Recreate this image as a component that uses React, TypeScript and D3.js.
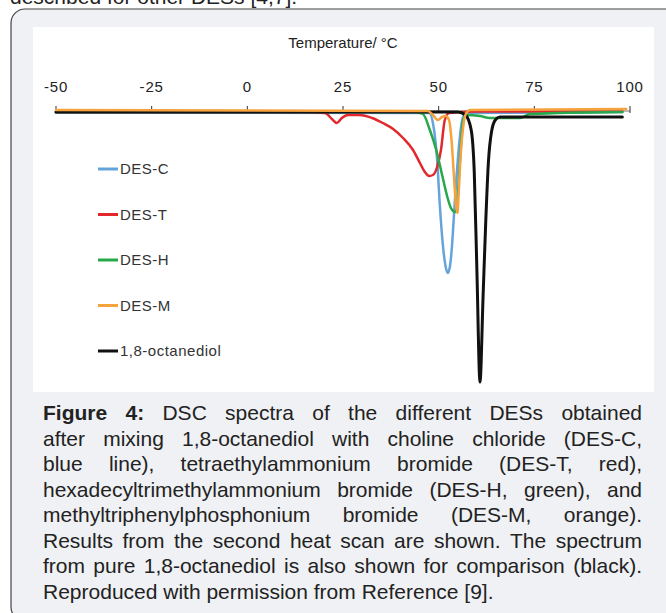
import React, { useMemo } from "react";
import * as d3 from "d3";

// ---- data ----
const xTicks: number[] = [-50, -25, 0, 25, 50, 75, 100];
const seriesNames: string[] = ["DES-C", "DES-T", "DES-H", "DES-M", "1,8-octanediol"];
const seriesColors: string[] = ["#64a4da", "#e2282c", "#27a84a", "#f6a33e", "#111111"];

// [temperature °C, heat flow (arbitrary units, endo down)]
const desC: [number, number][] = [
  [-50, -0.05], [47.5, -0.1], [48.8, -1.8], [49.6, -4.8], [50.3, -9.3], [51.1, -13.3],
  [51.9, -15.6], [52.4, -16.1], [53.0, -15.3], [53.5, -13.3], [54.0, -10.3], [54.5, -7.3],
  [55.0, -4.8], [55.6, -2.3], [56.4, -0.5], [57.7, -0.1], [98, 0],
];
const desT: [number, number][] = [
  [-50, 0], [14, 0], [20.3, -0.1], [22.1, -0.7], [23.4, -1.1], [24.7, -0.6], [26.3, -0.3],
  [29.4, -0.3], [32.6, -0.6], [35.4, -1.1], [38.1, -1.7], [40.7, -2.6], [43.3, -3.8],
  [45.1, -5.1], [46.4, -6.0], [47.5, -6.4], [48.5, -6.3], [49.6, -5.5], [50.6, -3.8],
  [51.6, -0.8], [52.7, -0.1], [60, 0.05], [98, 0.05],
];
const desH: [number, number][] = [
  [-50, 0], [43.8, 0], [45.9, -0.2], [47.7, -1.8], [49.3, -3.7], [50.9, -6.3], [52.2, -8.4],
  [53.2, -9.6], [54.3, -10.0], [54.8, -9.3], [55.3, -6.5], [55.8, -3.5], [56.3, -1.0],
  [57.1, -0.3], [60.8, -0.4], [63.4, -0.6], [71.2, -0.6], [73.9, -0.2], [98, 0],
];
const desM: [number, number][] = [
  [-50, 0.2], [47.2, 0.1], [48.5, -0.3], [49.8, -0.8], [50.9, -0.5], [51.9, -0.4],
  [52.7, -0.8], [53.5, -3.5], [54.0, -6.5], [54.5, -9.2], [54.9, -10.1], [55.3, -7.5],
  [55.8, -4.0], [56.4, -1.5], [57.1, -0.2], [58.2, 0.2], [99, 0.3],
];
const octanediol: [number, number][] = [
  [-50, 0], [40, 0], [55, 0], [57, -0.3], [58.5, -1.8], [59.3, -6], [60, -16], [60.8, -27],
  [61.6, -18.5], [62.3, -11], [63, -5], [63.8, -2], [64.8, -0.8], [66, -0.5], [98, -0.5],
];

const captionLines: string[] = [
  "Figure 4: DSC spectra of the different DESs obtained",
  "after mixing 1,8-octanediol with choline chloride (DES-C,",
  "blue line), tetraethylammonium bromide (DES-T, red),",
  "hexadecyltrimethylammonium bromide (DES-H, green), and",
  "methyltriphenylphosphonium bromide (DES-M, orange).",
  "Results from the second heat scan are shown. The spectrum",
  "from pure 1,8-octanediol is also shown for comparison (black).",
  "Reproduced with permission from Reference [9].",
];
const topText = "described for other DESs [4,7].";

const FONT = "'Liberation Sans', Arial, Helvetica, sans-serif";

export default function App() {
  const W = 666;
  const H = 613;
  const x = d3.scaleLinear().domain([-50, 100]).range([56, 630]);
  const y = d3.scaleLinear().domain([-27, 0]).range([382, 112]);
  const line = d3
    .line<[number, number]>()
    .x((d) => x(d[0]))
    .y((d) => y(d[1]))
    .curve(d3.curveMonotoneX);

  const series = [desC, desT, desH, octanediol, desM];
  const seriesIdx = [0, 1, 2, 4, 3];

  const capSize = 21;
  const capLeft = 43;
  const capRight = 642;
  const capTop = 420;
  const capStep = 25.5;

  const caption = useMemo(() => {
    const ctx = document.createElement("canvas").getContext("2d")!;
    const measure = (t: string, bold: boolean) => {
      ctx.font = `${bold ? "bold " : ""}${capSize}px ${FONT}`;
      return ctx.measureText(t).width;
    };
    return captionLines.map((ln, li) => {
      const words = ln.split(" ");
      const bolds = words.map((w, wi) => li === 0 && wi < 2);
      const widths = words.map((w, wi) => measure(w, bolds[wi]));
      const total = widths.reduce((a, b) => a + b, 0);
      const last = li === captionLines.length - 1;
      const gap = last || words.length < 2 ? measure(" ", false) : (capRight - capLeft - total) / (words.length - 1);
      let cx = capLeft;
      return words.map((w, wi) => {
        const item = { w, x: cx, bold: bolds[wi] };
        cx += widths[wi] + gap;
        return item;
      });
    });
  }, []);

  return (
    <svg
      width={W}
      height={H}
      style={{ position: "absolute", left: 0, top: 0, display: "block" }}
      fontFamily={FONT}
    >
      <rect x={0} y={0} width={W} height={H} fill="#ffffff" />
      <text x={10} y={4} fontSize={21} fill="#222">{topText}</text>
      <rect x={11} y={9} width={720} height={612} rx={14} ry={14} fill="#eff1f4" stroke="#444" strokeWidth={1.2} />
      <rect x={33} y={27} width={621} height={365} fill="#ffffff" />

      <text x={343} y={48} fontSize={15} fill="#222" textAnchor="middle">Temperature/ °C</text>

      {/* axis */}
      <line x1={x(-50)} x2={x(100)} y1={y(0) - 1} y2={y(0) - 1} stroke="#777" strokeWidth={1} />
      {xTicks.map((t) => (
        <g key={t}>
          <line x1={x(t)} x2={x(t)} y1={y(0) - 6} y2={y(0) + 1} stroke="#333" strokeWidth={1} />
          <text x={x(t)} y={92} fontSize={15} fill="#222" textAnchor="middle" letterSpacing={0.8}>
            {t}
          </text>
        </g>
      ))}

      {series.map((s, i) => {
        const k = seriesIdx[i];
        return (
          <path
            key={k}
            d={line(s) || ""}
            fill="none"
            stroke={seriesColors[k]}
            strokeWidth={k === 4 ? 3 : 2.5}
            strokeLinejoin="round"
            strokeLinecap="round"
          />
        );
      })}

      {/* legend */}
      {seriesNames.map((n, i) => {
        const ly = 169 + i * 45.5;
        return (
          <g key={n}>
            <line x1={98} x2={118} y1={ly} y2={ly} stroke={seriesColors[i]} strokeWidth={3} />
            <text x={120} y={ly} dy="0.35em" fontSize={15} fill="#333" letterSpacing={0.5}>
              {n}
            </text>
          </g>
        );
      })}

      {/* caption */}
      {caption.map((words, li) => (
        <g key={li}>
          {words.map((wd, wi) => (
            <text
              key={wi}
              x={wd.x}
              y={capTop + li * capStep}
              fontSize={capSize}
              fontWeight={wd.bold ? "bold" : "normal"}
              fill="#222"
            >
              {wd.w}
            </text>
          ))}
        </g>
      ))}
    </svg>
  );
}
